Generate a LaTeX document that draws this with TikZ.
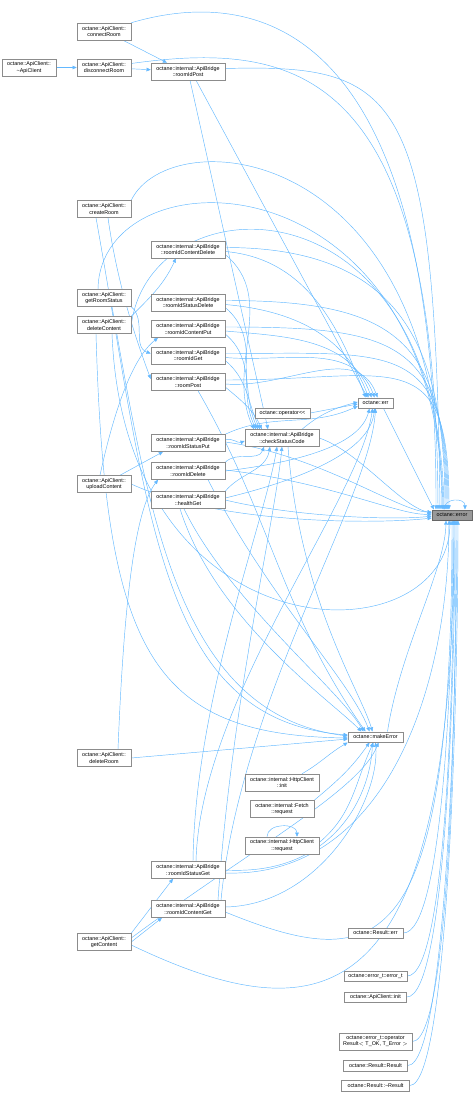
\documentclass[tikz,border=0pt]{standalone}
\usepackage{fontspec}
\newfontfamily\doxfont{Liberation Sans}
\usetikzlibrary{arrows.meta,backgrounds}
\definecolor{Edge}{HTML}{63B8FF}
\definecolor{BoxLine}{HTML}{8C8C8C}
\definecolor{HitFill}{HTML}{999999}
\definecolor{HitLine}{HTML}{666666}

\tikzset{
  fn/.style={draw=BoxLine,fill=white,line width=0.5pt,inner sep=0pt,align=center,
    font=\doxfont\fontsize{5.4}{6.3}\selectfont,minimum height=17pt},
  client/.style={fn,minimum width=54pt},
  bridge/.style={fn,minimum width=74pt},
  oneline/.style={fn,minimum height=10.5pt},
  call/.style={draw=Edge,line width=0.45pt,-{Triangle[length=4.2pt,width=3.6pt]}},
}

\begin{document}
\begin{tikzpicture}[x=1pt,y=-1pt]
\useasboundingbox (0,0) rectangle (474,1094);

% callers on the left
\node[client] (cR)   at (104,31.5) {octane::ApiClient::\\connectRoom};
\node[client] (dApi) at (29,67.5)  {octane::ApiClient::\\\textasciitilde ApiClient};
\node[client] (dR)   at (104,67.5) {octane::ApiClient::\\disconnectRoom};
\node[client] (cRm)  at (104,209)  {octane::ApiClient::\\createRoom};
\node[client] (gRS)  at (104,298)  {octane::ApiClient::\\getRoomStatus};
\node[client] (dC)   at (104,325)  {octane::ApiClient::\\deleteContent};
\node[client] (uC)   at (104,484)  {octane::ApiClient::\\uploadContent};
\node[client] (dRm)  at (104,758)  {octane::ApiClient::\\deleteRoom};
\node[client] (gC)   at (104,942)  {octane::ApiClient::\\getContent};

% bridge
\node[bridge] (rIP)  at (188,71.5) {octane::internal::ApiBridge\\::roomIdPost};
\node[bridge] (rICD) at (188,249.5){octane::internal::ApiBridge\\::roomIdContentDelete};
\node[bridge] (rISD) at (188,302.5){octane::internal::ApiBridge\\::roomIdStatusDelete};
\node[bridge] (rICP) at (188,329)  {octane::internal::ApiBridge\\::roomIdContentPut};
\node[bridge] (rIG)  at (188,355.5){octane::internal::ApiBridge\\::roomIdGet};
\node[bridge] (rP)   at (188,382)  {octane::internal::ApiBridge\\::roomPost};
\node[bridge] (rISP) at (188,443)  {octane::internal::ApiBridge\\::roomIdStatusPut};
\node[bridge] (rID)  at (188,471)  {octane::internal::ApiBridge\\::roomIdDelete};
\node[bridge] (hG)   at (188,500)  {octane::internal::ApiBridge\\::healthGet};
\node[bridge] (rISG) at (188,870)  {octane::internal::ApiBridge\\::roomIdStatusGet};
\node[bridge] (rICG) at (188,909)  {octane::internal::ApiBridge\\::roomIdContentGet};

% middle column
\node[oneline,minimum width=55pt] (op)  at (282.5,413) {octane::operator<<};
\node[bridge] (cSC) at (282,438) {octane::internal::ApiBridge\\::checkStatusCode};
\node[bridge] (hInit) at (282,782.5) {octane::internal::HttpClient\\::init};
\node[fn,minimum width=64pt] (fReq) at (282,809) {octane::internal::Fetch\\::request};
\node[bridge] (hReq) at (282,845.5) {octane::internal::HttpClient\\::request};

% right column
\node[oneline,minimum width=35pt] (err) at (375.5,403) {octane::err};
\node[oneline,minimum width=40pt,fill=HitFill,draw=HitLine] (error) at (452,515) {octane::error};
\node[oneline,minimum width=55pt] (mE) at (375.5,737) {octane::makeError};
\node[oneline,minimum width=55pt] (rErr) at (375.5,933) {octane::Result::err};
\node[oneline,minimum width=63pt] (etCtor) at (375.5,976) {octane::error\_t::error\_t};
\node[oneline,minimum width=62pt] (aInit) at (375.5,997) {octane::ApiClient::init};
\node[fn,minimum width=73pt] (etOp) at (375.5,1041.5) {octane::error\_t::operator\\Result$<$ T\_OK, T\_Error $>$};
\node[oneline,minimum width=64pt] (rRes) at (375.5,1065.5) {octane::Result::Result};
\node[oneline,minimum width=68pt] (rDtor) at (375.5,1085.5) {octane::Result::\textasciitilde Result};

\begin{scope}[on background layer]
% top
\draw[call] (dApi) -- (dR);
\draw[call] (dR) -- (rIP);
\draw[call] ([xshift=19pt]cR.south) -- ([xshift=-21pt]rIP.north);
\draw[call] (cR.north east) .. controls (270,-18) and (437,40) .. ([xshift=-16pt]error.north);
\draw[call] ([yshift=4pt]dR.east) .. controls (300,40) and (436,70) .. ([xshift=-14pt]error.north);
\draw[call] ([yshift=3pt]rIP.east) .. controls (400,64) and (435,90) .. ([xshift=-12pt]error.north);
\draw[call] ([xshift=8pt]rIP.south) -- ([xshift=-8pt]err.north);
\draw[call] ([xshift=2pt]rIP.south) -- ([xshift=-14pt]cSC.north);

% clients
\draw[call] (cRm.north east) .. controls (170,120) and (438,140) .. ([xshift=-10pt]error.north);
\draw[call] ([xshift=4pt]cRm.south) .. controls (118,290) and (140,350) .. ([yshift=3pt]rP.west);
\draw[call] ([xshift=-8pt]cRm.south) .. controls (150,520) and (160,720) .. ([yshift=2pt]mE.west);
\draw[call] ([xshift=-6pt]gRS.north) .. controls (100,150) and (437,150) .. ([xshift=-9pt]error.north);
\draw[call] (gRS.south east) to[out=-40,in=160] ([yshift=2pt]rIG.west);
\draw[call] ([xshift=8pt]gRS.south) .. controls (150,520) and (180,715) .. ([yshift=1pt]mE.west);
\draw[call] (dC.north east) to[out=45,in=-115] ([xshift=-12pt]rICD.south);
\draw[call] (dC.east) .. controls (150,180) and (438,170) .. ([xshift=-8pt]error.north);
\draw[call] ([xshift=8pt]dC.south) .. controls (125,660) and (448,660) .. ([xshift=-2pt]error.south);
\draw[call] ([xshift=-8pt]dC.south) .. controls (105,650) and (150,735) .. ([yshift=-1pt]mE.west);
\draw[call] ([xshift=-4pt]uC.north) .. controls (112,420) and (130,360) .. ([xshift=-30pt]rICP.south);
\draw[call] ([xshift=16pt]uC.north) -- ([xshift=-25pt]rISP.south);
\draw[call] (uC.east) .. controls (220,525) and (380,524) .. ([yshift=-3pt]error.west);
\draw[call] ([xshift=14pt]dRm.north) .. controls (124,600) and (135,510) .. ([xshift=-30pt]rID.south);
\draw[call] (dRm.east) -- ([yshift=-2pt]mE.west);
\draw[call] (gC.north east) -- ([xshift=-15pt]rISG.south);
\draw[call] (gC.east) -- ([xshift=-26pt]rICG.south);
\draw[call] ([yshift=4pt]gC.east) .. controls (250,850) and (360,790) .. ([xshift=3pt]mE.south);
\draw[call] ([yshift=-3pt]gC.east) .. controls (330,1040) and (454,1010) .. ([xshift=2pt]error.south);

% bridge calls upward
\foreach \n/\ea/\eb/\ec in {rICD/-7/-10/-28, rISD/-6/-7/-26, rICP/-5/-4/-24, rIG/-4/-1/-22, rP/-3/2/-20}{
  \draw[call] ([yshift=2pt]\n.east) .. controls +(170,0) and +(0,-170) .. ([xshift=\ea pt]error.north);
  \draw[call] ([yshift=-2pt]\n.east) to[out=-5,in=110] ([xshift=\eb pt]err.north);
  \draw[call] ([yshift=-5pt]\n.east) to[out=-40,in=115] ([xshift=\ec pt]cSC.north);
}
\draw[call] ([xshift=10pt]rP.south) to[out=-60,in=125] ([xshift=-10pt]mE.north);

% bridge calls near error
\draw[call] ([yshift=1pt]rISP.east) .. controls (320,455) and (400,512) .. ([yshift=3pt]error.west);
\draw[call] (rISP.north east) to[out=25,in=-155] ([yshift=-3pt]err.west);
\draw[call] ([yshift=3pt]rISP.east) to[out=20,in=-160] ([yshift=-3pt]cSC.west);
\draw[call] ([yshift=1pt]rID.east) .. controls (330,482) and (400,516) .. ([yshift=1pt]error.west);
\draw[call] (rID.east) .. controls (300,462) and (360,445) .. ([xshift=-6pt]err.south);
\draw[call] (rID.north east) to[out=45,in=-110] ([xshift=-18pt]cSC.south);
\draw[call] ([xshift=20pt]rID.south) .. controls (270,600) and (350,680) .. ([xshift=-6pt]mE.north);
\draw[call] (hG.east) .. controls (300,518) and (400,520) .. ([yshift=-1pt]error.west);
\draw[call] ([yshift=2pt]hG.east) .. controls (300,480) and (370,452) .. ([xshift=-1pt]err.south);
\draw[call] (hG.north east) to[out=50,in=-100] ([xshift=-12pt]cSC.south);
\draw[call] ([xshift=-8pt]hG.south) .. controls (215,620) and (330,700) .. ([xshift=-14pt]mE.north);
\draw[call] ([xshift=-4pt]hG.south) .. controls (228,600) and (340,690) .. ([xshift=-12pt]mE.north);

% middle
\draw[call] (op.east) -- ([yshift=-1pt]err.west);
\draw[call] ([xshift=20pt]cSC.north) to[out=40,in=-165] ([yshift=1pt]err.west);
\draw[call] (cSC.east) .. controls (360,452) and (400,506) .. ([yshift=2pt]error.west);
\draw[call] ([xshift=6pt]cSC.south) .. controls (300,600) and (360,690) .. ([xshift=-3pt]mE.north);
\draw[call] ([xshift=8pt]err.south) -- ([xshift=-18pt]error.north);
\draw[call] ([xshift=12pt]mE.north) .. controls (400,650) and (445,570) .. ([xshift=-6pt]error.south);

% lower bridge
\draw[call] ([xshift=5pt]rISG.north) .. controls (195,700) and (265,520) .. ([xshift=-5pt]cSC.south);
\draw[call] ([xshift=8pt]rISG.north) .. controls (200,700) and (360,500) .. ([xshift=-3pt]err.south);
\draw[call] (rISG.east) .. controls (330,876) and (370,800) .. ([xshift=-3pt]mE.south);
\draw[call] ([yshift=-3pt]rISG.east) .. controls (380,878) and (448,700) .. ([xshift=-3pt]error.south);
\draw[call] ([xshift=30pt]rICG.north) .. controls (232,700) and (275,520) .. (cSC.south);
\draw[call] ([xshift=33pt]rICG.north) .. controls (240,700) and (370,500) .. (err.south);
\draw[call] ([yshift=2pt]rICG.east) .. controls (320,905) and (380,800) .. (mE.south);
\draw[call] ([yshift=-3pt]rICG.east) .. controls (380,975) and (452,960) .. (error.south);

% http
\draw[call] ([xshift=20pt]hInit.north) to[out=30,in=-150] (mE.south west);
\draw[call] (fReq.north east) to[out=40,in=-125] ([xshift=-6pt]mE.south);
\draw[call] ([yshift=3pt]hReq.east) to[out=40,in=-115] ([xshift=-2pt]mE.south);
\draw[call] ([xshift=-15pt]hReq.north) .. controls +(0,-14) and +(0,-14) .. ([xshift=15pt]hReq.north);

% result side
\foreach \n/\s in {rErr/1, etCtor/2, aInit/3, etOp/4, rRes/5, rDtor/6}
  \draw[call] (\n.east) .. controls +(40,0) and +(0,150) .. ([xshift=\s pt]error.south);
\draw[call] ([xshift=-8pt]error.north) .. controls +(0,-12) and +(0,-12) .. ([xshift=13pt]error.north);
\end{scope}
\end{tikzpicture}
\end{document}
